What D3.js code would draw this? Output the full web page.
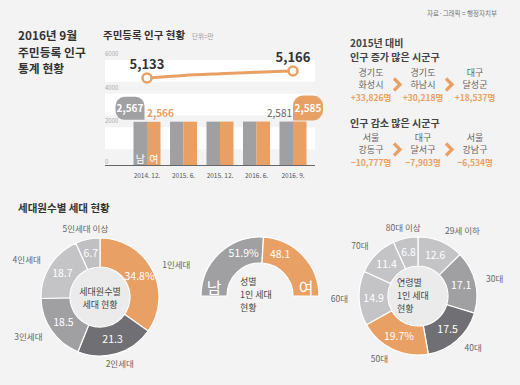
<!DOCTYPE html>
<html>
<head>
<meta charset="utf-8">
<script src="https://cdn.jsdelivr.net/npm/d3@7"></script>
<style>
  body { margin: 0; background: #f3f3f3; }
  svg { display: block; font-family: "Noto Sans CJK KR", "Noto Sans", sans-serif; }
</style>
</head>
<body>
<svg id="chart" width="520" height="385"></svg>
<script>
(function () {
    'use strict';

    // bar + line chart
    var periods = ["2014. 12.", "2015. 6.", "2015. 12.", "2016. 6.", "2016. 9."];
    var men = [2567, 2573, 2576, 2579, 2581];
    var women = [2566, 2572, 2577, 2581, 2585];
    var totals = [5133, 5145, 5153, 5160, 5166];
    var yTicks = [0, 2000, 4000, 6000];

    // increase / decrease lists
    var upPlaces = [["경기도", "화성시"], ["경기도", "하남시"], ["대구", "달성군"]];
    var upValues = ["+33,826명", "+30,218명", "+18,537명"];
    var downPlaces = [["서울", "강동구"], ["대구", "달서구"], ["서울", "강남구"]];
    var downValues = ["−10,777명", "−7,903명", "−6,534명"];

    // donuts
    var houseCats = ["1인세대", "2인세대", "3인세대", "4인세대", "5인세대 이상"];
    var houseVals = [34.8, 21.3, 18.5, 18.7, 6.7];
    var sexCats = ["남", "여"];
    var sexVals = [51.9, 48.1];
    var ageCats = ["29세 이하", "30대", "40대", "50대", "60대", "70대", "80대 이상"];
    var ageVals = [12.6, 17.1, 17.5, 19.7, 14.9, 11.4, 6.8];

    var ORANGE = "#e8a064", DARK = "#707074", MID = "#a0a0a2", LIGHT = "#c4c4c7";
    var houseColors = [ORANGE, DARK, MID, LIGHT, "#c0c0c3"];
    var sexColors = [MID, ORANGE];
    var ageColors = [LIGHT, MID, DARK, ORANGE, LIGHT, LIGHT, LIGHT];

    var svg = d3.select("#chart");
    svg.append("rect").attr("width", 520).attr("height", 385).attr("fill", "#f3f3f3");

    // titles
    ["2016년 9월", "주민등록 인구", "통계 현황"].forEach(function (t, i) {
        svg.append("text").attr("x", 18).attr("y", 40 + i * 16.7).attr("fill", "#333")
            .style("font-size", "11.8px").style("font-weight", "bold").text(t);
    });
    svg.append("text").attr("x", 103).attr("y", 39).attr("fill", "#333")
        .style("font-size", "10.5px").style("font-weight", "bold").text("주민등록 인구 현황");
    svg.append("text").attr("x", 192).attr("y", 39).attr("fill", "#999")
        .style("font-size", "6.5px").text("단위=만");
    svg.append("text").attr("x", 497).attr("y", 16).attr("text-anchor", "end").attr("fill", "#777")
        .style("font-size", "6.5px").text("자료·그래픽 = 행정자치부");

    // ---- bar chart ----
    var x = d3.scaleBand().domain(periods).range([128.75, 311.25])
        .paddingInner(0.26).paddingOuter(0.13);
    var xs = d3.scaleBand().domain(["m", "w"]).range([0, x.bandwidth()]);
    var y = d3.scaleLinear().domain([0, 6000]).range([165, 64]);
    var yl = d3.scaleLinear().domain([5133, 5166]).range([78, 71]);

    var plot = svg.append("g");
    plot.selectAll("rect.band").data(yTicks.filter(function (t) { return t > 0; }))
        .enter().append("rect").attr("class", "band")
        .attr("x", 105).attr("width", 210)
        .attr("y", function (t) { return y(t) - 4; })
        .attr("height", function (t) { return y(t - 1300) - y(t); })
        .attr("fill", "#fff");
    plot.selectAll("text.tick").data(yTicks).enter().append("text").attr("class", "tick")
        .attr("x", 105).attr("y", function (t) { return y(t) - (t === 0 ? 1 : 8); })
        .attr("fill", "#aaa").style("font-size", "6px").text(function (t) { return t; });

    var groups = plot.selectAll("g.grp").data(periods).enter().append("g")
        .attr("transform", function (d) { return "translate(" + x(d) + ",0)"; });
    groups.append("rect").attr("x", xs("m")).attr("width", xs.bandwidth())
        .attr("y", function (d, i) { return y(men[i]); })
        .attr("height", function (d, i) { return y(0) - y(men[i]); })
        .attr("fill", MID);
    groups.append("rect").attr("x", xs("w")).attr("width", xs.bandwidth())
        .attr("y", function (d, i) { return y(women[i]); })
        .attr("height", function (d, i) { return y(0) - y(women[i]); })
        .attr("fill", ORANGE);

    plot.append("line").attr("x1", 105).attr("x2", 315).attr("y1", y(0) + 0.5).attr("y2", y(0) + 0.5)
        .attr("stroke", "#666").attr("stroke-width", 1);

    svg.append("g").attr("transform", "translate(0," + (y(0) + 8) + ")")
        .call(d3.axisBottom(x).tickSize(0).tickPadding(0))
        .call(function (g) { g.select(".domain").remove(); })
        .selectAll("text").attr("fill", "#555").style("font-size", "6.5px")
        .style("font-family", "\"Noto Sans CJK KR\", sans-serif");

    // 남 / 여 labels on first group
    var first = periods[0];
    plot.append("text").attr("x", x(first) + xs("m") + xs.bandwidth() / 2).attr("y", 163)
        .attr("text-anchor", "middle").attr("fill", "#fff").style("font-size", "10px").text("남");
    plot.append("text").attr("x", x(first) + xs("w") + xs.bandwidth() / 2).attr("y", 163)
        .attr("text-anchor", "middle").attr("fill", "#fff").style("font-size", "10px").text("여");

    // bubbles
    function bubble(px, py, w, h, r, side) {
        if (side === "right") {
            return "M" + px + "," + py + "H" + (px - w + r) + "A" + r + "," + r + " 0 0 1 " + (px - w) + "," + (py - r) +
                "V" + (py - h + r) + "A" + r + "," + r + " 0 0 1 " + (px - w + r) + "," + (py - h) +
                "H" + (px - r) + "A" + r + "," + r + " 0 0 1 " + px + "," + (py - h + r) + "Z";
        }
        return "M" + px + "," + py + "H" + (px + w - r) + "A" + r + "," + r + " 0 0 0 " + (px + w) + "," + (py - r) +
            "V" + (py - h + r) + "A" + r + "," + r + " 0 0 0 " + (px + w - r) + "," + (py - h) +
            "H" + (px + r) + "A" + r + "," + r + " 0 0 0 " + px + "," + (py - h + r) + "Z";
    }
    var last = periods[periods.length - 1];
    var b1x = x(first) + xs("m") + 11, b1y = y(men[0]) - 2;
    plot.append("path").attr("d", bubble(b1x, b1y, 29, 23, 9, "right")).attr("fill", MID);
    plot.append("text").attr("x", b1x - 14.5).attr("y", b1y - 8).attr("text-anchor", "middle")
        .attr("fill", "#fff").style("font-size", "10px").style("font-weight", "bold")
        .text(d3.format(",")(men[0]));
    plot.append("text").attr("x", x(first) + xs("w")).attr("y", y(women[0]) - 5)
        .attr("fill", ORANGE).style("font-size", "10px").style("font-weight", "bold")
        .text(d3.format(",")(women[0]));
    plot.append("text").attr("x", x(last) + xs("m") + xs.bandwidth() - 1).attr("y", y(men[4]) - 5)
        .attr("text-anchor", "end").attr("fill", "#666").style("font-size", "10px")
        .text(d3.format(",")(men[4]));
    var b2x = x(last) + xs("w"), b2y = y(women[4]) - 1;
    plot.append("path").attr("d", bubble(b2x, b2y, 30, 25, 10, "left")).attr("fill", ORANGE);
    plot.append("text").attr("x", b2x + 15).attr("y", b2y - 8.5).attr("text-anchor", "middle")
        .attr("fill", "#fff").style("font-size", "10px").style("font-weight", "bold")
        .text(d3.format(",")(women[4]));

    // total line
    var cx = function (d, i) { return x(periods[i]) + x.bandwidth() / 2; };
    plot.append("path").datum(totals)
        .attr("d", d3.line().x(cx).y(function (d) { return yl(d); }).curve(d3.curveMonotoneX))
        .attr("fill", "none").attr("stroke", ORANGE).attr("stroke-width", 3);
    [0, totals.length - 1].forEach(function (i) {
        plot.append("circle").attr("cx", cx(null, i)).attr("cy", yl(totals[i])).attr("r", 4.5)
            .attr("fill", "#fff").attr("stroke", ORANGE).attr("stroke-width", 2.5);
        plot.append("text").attr("x", cx(null, i)).attr("y", yl(totals[i]) - 9)
            .attr("text-anchor", "middle").attr("fill", "#333")
            .style("font-size", "13px").style("font-weight", "bold")
            .text(d3.format(",")(totals[i]));
    });

    // ---- increase / decrease ----
    var colX = [371, 423, 475];
    var side = svg.append("g");
    side.append("text").attr("x", 350).attr("y", 47).attr("fill", "#444")
        .style("font-size", "10px").style("font-weight", "bold").text("2015년 대비");
    side.append("text").attr("x", 350).attr("y", 61).attr("fill", "#444")
        .style("font-size", "10px").style("font-weight", "bold").text("인구 증가 많은 시군구");
    side.append("text").attr("x", 350).attr("y", 127).attr("fill", "#444")
        .style("font-size", "10px").style("font-weight", "bold").text("인구 감소 많은 시군구");

    function placeList(places, values, top) {
        places.forEach(function (p, i) {
            p.forEach(function (name, j) {
                side.append("text").attr("x", colX[i]).attr("y", top + j * 12.5)
                    .attr("text-anchor", "middle").attr("fill", "#666")
                    .style("font-size", "9px").text(name);
            });
            side.append("text").attr("x", colX[i]).attr("y", top + 25)
                .attr("text-anchor", "middle").attr("fill", ORANGE)
                .style("font-size", "8.5px").style("font-weight", "bold").text(values[i]);
            if (i < places.length - 1) {
                var ax = (colX[i] + colX[i + 1]) / 2, ay = top + 9;
                side.append("path").attr("d", "M" + (ax - 3) + "," + (ay - 6) + "L" + (ax + 3) + "," + ay + "L" + (ax - 3) + "," + (ay + 6))
                    .attr("fill", "none").attr("stroke", ORANGE).attr("stroke-width", 3.2);
            }
        });
    }
    placeList(upPlaces, upValues, 75.5);
    placeList(downPlaces, downValues, 140.5);

    // ---- donuts ----
    svg.append("text").attr("x", 18).attr("y", 212).attr("fill", "#333")
        .style("font-size", "10.5px").style("font-weight", "bold").text("세대원수별 세대 현황");

    var R = 59, r0 = 30;
    function donut(cxp, cyp, cats, vals, colors, centerLines, opts) {
        var g = svg.append("g").attr("transform", "translate(" + cxp + "," + cyp + ")");
        var pie = d3.pie().sort(null).value(function (d) { return d; })
            .startAngle(opts.start).endAngle(opts.end);
        var arcs = pie(vals);
        var arc = d3.arc().innerRadius(opts.inner).outerRadius(R);
        g.selectAll("path").data(arcs).enter().append("path").attr("d", arc)
            .attr("fill", function (d, i) { return colors[i]; })
            .attr("stroke", "#fff").attr("stroke-width", 1.2);
        if (opts.fillCenter) {
            g.append("circle").attr("r", opts.inner - 0.5).attr("fill", "#ebebeb");
        }
        var mid = d3.arc().innerRadius((opts.inner + R) / 2).outerRadius((opts.inner + R) / 2);
        g.selectAll("text.val").data(arcs).enter().append("text").attr("class", "val")
            .attr("transform", function (d) { return "translate(" + mid.centroid(d) + ")"; })
            .attr("dy", "0.35em").attr("text-anchor", "middle").attr("fill", "#fff")
            .style("font-size", "10.5px")
            .text(function (d, i) { return vals[i] + (i === opts.pctIndex ? "%" : ""); });
        if (opts.outer) {
            var out = d3.arc().innerRadius(R + 11).outerRadius(R + 11);
            g.selectAll("text.cat").data(arcs).enter().append("text").attr("class", "cat")
                .attr("transform", function (d) { return "translate(" + out.centroid(d) + ")"; })
                .attr("dy", "0.35em")
                .attr("text-anchor", function (d) {
                    var s = Math.sin((d.startAngle + d.endAngle) / 2);
                    return s > 0.35 ? "start" : (s < -0.35 ? "end" : "middle");
                })
                .attr("fill", "#666").style("font-size", "8.5px")
                .text(function (d, i) { return cats[i]; });
        }
        centerLines.forEach(function (t, i) {
            g.append("text").attr("fill", "#444").style("font-size", "9px")
                .attr("text-anchor", opts.centerAnchor || "middle")
                .attr("x", opts.centerX || 0)
                .attr("y", (opts.centerY || 0) + i * 13).text(t);
        });
        return { g: g, arcs: arcs };
    }

    donut(100, 297, houseCats, houseVals, houseColors, ["세대원수별", "세대 현황"],
        { start: 0, end: 2 * Math.PI, inner: r0, outer: true, fillCenter: true, centerY: -2, pctIndex: 0 });

    var half = donut(260, 296, sexCats, sexVals, sexColors, ["성별", "1인 세대", "현황"],
        { start: -Math.PI / 2, end: Math.PI / 2, inner: 33, outer: false, pctIndex: 0,
          centerAnchor: "start", centerX: -20, centerY: -11 });
    half.g.selectAll("text.sex").data(half.arcs).enter().append("text").attr("class", "sex")
        .attr("x", function (d, i) { return i === 0 ? -(R + 33) / 2 : (R + 33) / 2; })
        .attr("y", -2).attr("text-anchor", "middle").attr("fill", "#fff")
        .style("font-size", "16px").text(function (d, i) { return sexCats[i]; });
    half.g.selectAll("text.val").attr("transform", function (d) {
        var f = d.index === 0 ? 0.74 : 0.26;
        var a = d.startAngle + (d.endAngle - d.startAngle) * f;
        var c = d3.arc().innerRadius(46).outerRadius(46).centroid({ startAngle: a, endAngle: a });
        return "translate(" + c + ")";
    });

    donut(418, 296, ageCats, ageVals, ageColors, ["연령별", "1인 세대", "현황"],
        { start: 0, end: 2 * Math.PI, inner: r0, outer: true, fillCenter: true, pctIndex: 3,
          centerAnchor: "start", centerX: -21, centerY: -10 });
}());
</script>
</body>
</html>
